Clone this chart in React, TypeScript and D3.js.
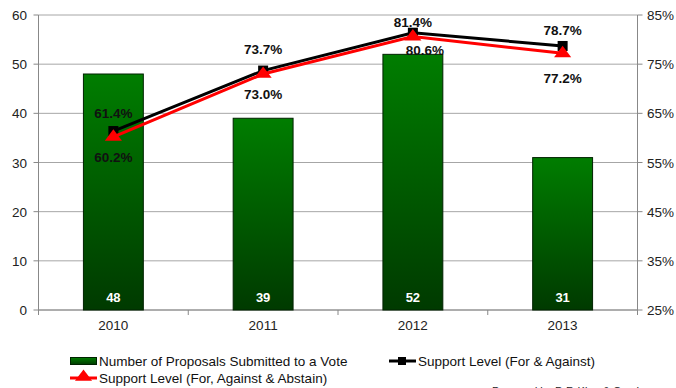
import React from "react";
import * as d3 from "d3";

const years = ["2010", "2011", "2012", "2013"];
const proposals = [48, 39, 52, 31];
const supportForAgainst = [61.4, 73.7, 81.4, 78.7];
const supportAll = [60.2, 73.0, 80.6, 77.2];
const leftTicks = [0, 10, 20, 30, 40, 50, 60];
const rightTicks = [25, 35, 45, 55, 65, 75, 85];

// label offsets (layout only)
const blackDy = [-13, -17, -6, -11];
const redDy = [25, 25, 18, 30];
const redDx = [0, 0, 12, 0];

const W = 676, H = 388;
const L = 38.5, R = 637.5, T = 15, B = 310;
const FONT = "'Liberation Sans', Arial, sans-serif";

export default function App() {
  const x = d3.scaleBand<string>().domain(years).range([L, R]).paddingInner(0.6).paddingOuter(0.3);
  const xc = (i: number) => (x(years[i]) as number) + x.bandwidth() / 2;
  const yL = d3.scaleLinear().domain([0, 60]).range([B, T]);
  const yR = d3.scaleLinear().domain([25, 85]).range([B, T]);
  const lineB = d3.line<number>().x((_, i) => xc(i)).y((d) => yR(d));
  const band = (R - L) / years.length;
  const tri = d3.symbol().type(d3.symbolTriangle).size(75)() as string;

  return (
    <svg width={W} height={H} style={{ position: "absolute", left: 0, top: 0, background: "#fff" }} fontFamily={FONT}>
      <defs>
        <linearGradient id="barg" x1="0" y1="0" x2="0" y2="1">
          <stop offset="0" stopColor="#007d00" />
          <stop offset="1" stopColor="#003a00" />
        </linearGradient>
      </defs>
      {leftTicks.map((t) => (
        <line key={t} x1={L} x2={R} y1={yL(t)} y2={yL(t)} stroke="#a6a6a6" strokeWidth={1} />
      ))}
      <line x1={L} x2={L} y1={T} y2={B} stroke="#888" />
      <line x1={R} x2={R} y1={T} y2={B} stroke="#888" />
      <line x1={L} x2={R} y1={B} y2={B} stroke="#888" />
      {leftTicks.map((t) => (
        <g key={"l" + t}>
          <line x1={L - 5} x2={L} y1={yL(t)} y2={yL(t)} stroke="#888" />
          <text x={27} y={yL(t) + 5} textAnchor="end" fontSize={13.5} fill="#222">{t}</text>
        </g>
      ))}
      {rightTicks.map((t) => (
        <g key={"r" + t}>
          <line x1={R} x2={R + 5} y1={yR(t)} y2={yR(t)} stroke="#888" />
          <text x={647} y={yR(t) + 5} fontSize={13.5} fill="#222">{t}%</text>
        </g>
      ))}
      {years.map((_, i) => (
        <line key={"bt" + i} x1={L + band * i} x2={L + band * i} y1={B} y2={B + 5} stroke="#888" />
      ))}
      <line x1={R} x2={R} y1={B} y2={B + 5} stroke="#888" />
      {years.map((yv, i) => (
        <text key={"yl" + i} x={xc(i)} y={330} textAnchor="middle" fontSize={13.5} fill="#222">{yv}</text>
      ))}
      {proposals.map((v, i) => (
        <g key={"b" + i}>
          <rect x={x(years[i])} y={yL(v)} width={x.bandwidth()} height={B - yL(v)} fill="url(#barg)" stroke="#002200" strokeWidth={1} />
          <text x={xc(i)} y={302} textAnchor="middle" fontSize={13} fontWeight="bold" fill="#fff">{v}</text>
        </g>
      ))}
      <path d={lineB(supportForAgainst) as string} fill="none" stroke="#000" strokeWidth={3} />
      {supportForAgainst.map((v, i) => (
        <rect key={"sq" + i} x={xc(i) - 5} y={yR(v) - 5} width={10} height={10} fill="#000" />
      ))}
      <path d={lineB(supportAll) as string} fill="none" stroke="#ff0000" strokeWidth={3} />
      {supportAll.map((v, i) => (
        <path key={"tr" + i} d={tri} transform={`translate(${xc(i)},${yR(v)}) scale(1.3,1)`} fill="#ff0000" />
      ))}
      {supportForAgainst.map((v, i) => (
        <text key={"lb" + i} x={xc(i)} y={yR(v) + blackDy[i]} textAnchor="middle" fontSize={13.5} fontWeight="bold" fill="#111">{v.toFixed(1)}%</text>
      ))}
      {supportAll.map((v, i) => (
        <text key={"lr" + i} x={xc(i) + redDx[i]} y={yR(v) + redDy[i]} textAnchor="middle" fontSize={13.5} fontWeight="bold" fill="#111">{v.toFixed(1)}%</text>
      ))}
      <rect x={70.5} y={357.5} width={26} height={7} fill="url(#barg)" stroke="#002200" />
      <text x={99} y={366} fontSize={13.5} fill="#111">Number of Proposals Submitted to a Vote</text>
      <line x1={389} x2={416} y1={361} y2={361} stroke="#000" strokeWidth={3} />
      <rect x={398} y={357} width={8} height={8} fill="#000" />
      <text x={418} y={366} fontSize={13.5} fill="#111">Support Level (For &amp; Against)</text>
      <line x1={70} x2={97} y1={378} y2={378} stroke="#ff0000" strokeWidth={3} />
      <path d={tri} transform={`translate(83.5,377) scale(1.3,1)`} fill="#ff0000" />
      <text x={99} y={383} fontSize={13.5} fill="#111">Support Level (For, Against &amp; Abstain)</text>
      <text x={492} y={395} fontSize={11} fill="#222">Prepared by D.F. King &amp; Co., Inc.</text>
    </svg>
  );
}
